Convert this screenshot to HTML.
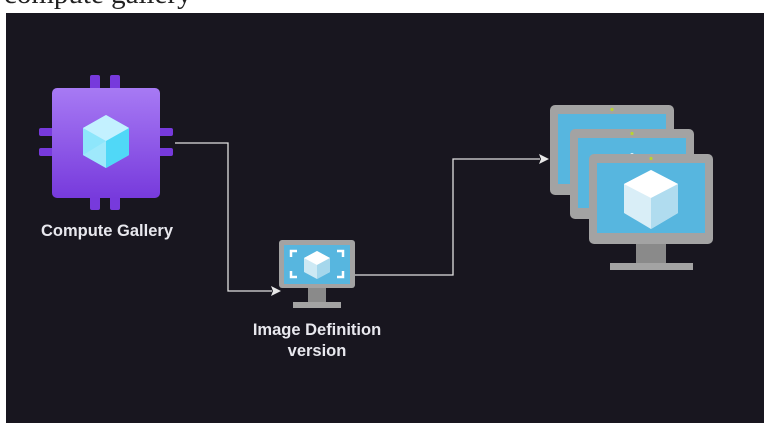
<!DOCTYPE html>
<html><head><meta charset="utf-8"><style>
html,body{margin:0;padding:0;width:780px;height:427px;background:#fff;overflow:hidden;position:relative}
.t{position:absolute;left:4px;top:-22px;font-family:"Liberation Serif",serif;font-size:29px;color:#222;white-space:nowrap}
svg{position:absolute;left:0;top:0}
</style></head><body>
<div class="t">compute gallery</div>
<svg width="780" height="427" viewBox="0 0 780 427" xmlns="http://www.w3.org/2000/svg">
<defs>
<linearGradient id="pg" x1="0" y1="0" x2="0" y2="1"><stop offset="0" stop-color="#a77af4"/><stop offset="1" stop-color="#773adc"/></linearGradient>
<g id="mon">
<rect x="0" y="0" width="124" height="90" rx="5" fill="#a3a3a3"/>
<rect x="8" y="9" width="108" height="70" fill="#57b6df"/>
<circle cx="62" cy="4.5" r="1.6" fill="#b8d432"/>
</g>
</defs>
<rect x="6" y="13" width="758" height="410" fill="#18161f"/>
<g fill="#773adc">
<rect x="90" y="75" width="10" height="16" rx="2"/><rect x="110" y="75" width="10" height="16" rx="2"/>
<rect x="90" y="195" width="10" height="15" rx="2"/><rect x="110" y="195" width="10" height="15" rx="2"/>
<rect x="39" y="128" width="16" height="8" rx="2"/><rect x="39" y="148" width="16" height="8" rx="2"/>
<rect x="157" y="128" width="16" height="8" rx="2"/><rect x="157" y="148" width="16" height="8" rx="2"/>
</g>
<rect x="52" y="88" width="108" height="110" rx="5" fill="url(#pg)"/>
<polygon points="106,115 129,128 129,155 106,168 83,155 83,128" fill="#8ee6fb"/>
<polygon points="106,115 129,128 106,141 83,128" fill="#c3f1ff"/>
<polygon points="106,141 129,128 129,155 106,168" fill="#50d8f7"/>
<polygon points="83,155 106,141 106,168" fill="#9fe9fb"/>
<text x="107" y="236" font-family="Liberation Sans,sans-serif" font-size="16.5" font-weight="bold" fill="#e8e8ee" text-anchor="middle">Compute Gallery</text>
<polyline points="175,143 228,143 228,291 272,291" fill="none" stroke="#e0e0e0" stroke-width="1.3"/>
<polygon points="281,291 271,286 273,291 271,296" fill="#e8e8e8"/>
<polyline points="355,275 453,275 453,159 540,159" fill="none" stroke="#e0e0e0" stroke-width="1.3"/>
<polygon points="549,159 539,154 541,159 539,164" fill="#e8e8e8"/>
<rect x="279" y="240" width="76" height="48" rx="3" fill="#a3a3a3"/>
<rect x="284" y="245" width="66" height="39" fill="#57b6df"/>
<rect x="308" y="288" width="18" height="14" fill="#8a8a8a"/>
<rect x="293" y="302" width="48" height="6" fill="#a3a3a3"/>
<g fill="none" stroke="#fff" stroke-width="2.5">
<polyline points="291,257 291,251 297,251"/><polyline points="337,251 343,251 343,257"/>
<polyline points="291,271 291,277 297,277"/><polyline points="337,277 343,277 343,271"/>
</g>
<polygon points="317,251 330,258 330,272 317,279 304,272 304,258" fill="#cde9f4"/>
<polygon points="317,251 330,258 317,265 304,258" fill="#fff"/>
<polygon points="317,265 330,258 330,272 317,279" fill="#a5d7ec"/>
<text x="317" y="335" font-family="Liberation Sans,sans-serif" font-size="16.5" font-weight="bold" fill="#e8e8ee" text-anchor="middle">Image Definition</text>
<text x="317" y="356" font-family="Liberation Sans,sans-serif" font-size="16.5" font-weight="bold" fill="#e8e8ee" text-anchor="middle">version</text>
<use href="#mon" x="550" y="105"/>
<polygon points="612,129 628,137 612,145 596,137" fill="#fff"/>
<use href="#mon" x="570" y="129"/>
<polygon points="632,153 648,161 632,169 616,161" fill="#fff"/>
<use href="#mon" x="589" y="154"/>
<rect x="636" y="244" width="30" height="20" fill="#8a8a8a"/>
<rect x="610" y="263" width="83" height="7" fill="#a3a3a3"/>
<polygon points="651,170 678,184 678,213 651,229 624,213 624,184" fill="#d9eef7"/>
<polygon points="651,170 678,184 651,198 624,184" fill="#fff"/>
<polygon points="651,198 678,184 678,213 651,229" fill="#b0dcef"/>
</svg>
</body></html>
